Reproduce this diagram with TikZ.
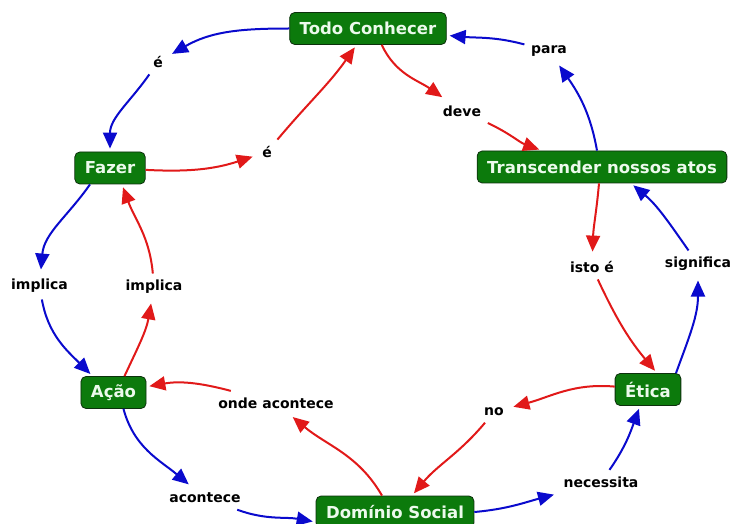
\documentclass[tikz,border=0pt]{standalone}
\usepackage{fontspec}
\setmainfont{DejaVu Sans}
\usetikzlibrary{arrows.meta}
\definecolor{boxgreen}{RGB}{12,122,12}
\definecolor{boxline}{RGB}{12,48,12}
\definecolor{boxtext}{RGB}{236,250,236}
\definecolor{linkblue}{RGB}{10,10,205}
\definecolor{linkred}{RGB}{225,25,25}
\begin{document}
\begin{tikzpicture}[x=1pt,y=1pt,
    concept/.style={draw=boxline,line width=0.8pt,fill=boxgreen,rounded corners=5pt,
      text=boxtext,font=\fontsize{16.5}{19}\selectfont\bfseries,inner xsep=10pt,minimum height=32pt},
    link/.style={font=\fontsize{14}{17}\selectfont\bfseries,inner sep=6.5pt},
    bl/.style={draw=linkblue,line width=2pt,-{Triangle[length=16pt,width=14pt]},shorten >=3pt},
    rd/.style={draw=linkred,line width=2pt,-{Triangle[length=16pt,width=14pt]},shorten >=3pt}]
    \useasboundingbox (0,0) rectangle (731,523);
    % concepts
    \node[concept] (todo) at (368,494.5) {Todo Conhecer};
    \node[concept] (trans) at (602,356) {Transcender nossos atos};
    \node[concept] (fazer) at (110,355) {Fazer};
    \node[concept] (acao) at (113.5,130.5) {Ação};
    \node[concept] (etica) at (648,133.5) {Ética};
    \node[concept] (dominio) at (395,11) {Domínio Social};
    % linking words
    \node[link] (e1) at (158,461) {é};
    \node[link] (e2) at (267,371) {é};
    \node[link] (deve) at (462,412) {deve};
    \node[link] (para) at (549,472) {para};
    \node[link] (impl1) at (39.5,237) {implica};
    \node[link] (impl2) at (154,236) {implica};
    \node[link] (isto) at (592,256) {isto é};
    \node[link] (signif) at (698,259) {significa};
    \node[link] (onde) at (276,120) {onde acontece};
    \node[link] (no) at (494,111) {no};
    \node[link] (acontece) at (205,25) {acontece};
    \node[link] (necessita) at (601,41) {necessita};
    % links
    \draw[bl] (todo) to[out=180,in=30] (e1);
    \draw[bl] (e1) to[out=235,in=90] (fazer);
    \draw[rd] (fazer) to[out=-3,in=198] (e2);
    \draw[rd] (e2) to[out=50,in=235] (todo);
    \draw[rd] (todo.-50) to[out=-65,in=145] (deve);
    \draw[rd] (deve) to[out=-25,in=160] ([xshift=-60pt]trans.north);
    \draw[bl] ([xshift=-5pt]trans.north) to[out=100,in=-55] (para);
    \draw[bl] (para) to[out=165,in=-5] (todo);
    \draw[rd] ([xshift=-3pt]trans.south) to[out=-95,in=88] (isto);
    \draw[rd] (isto) to[out=-65,in=130] ([xshift=9pt]etica.north);
    \draw[bl] ([xshift=28pt]etica.north) to[out=70,in=-90] (signif);
    \draw[bl] (signif) to[out=125,in=-40] ([xshift=29pt]trans.south);
    \draw[rd] (etica) to[out=175,in=15] (no);
    \draw[rd] (no) to[out=-130,in=50] ([xshift=17pt]dominio.north);
    \draw[rd] ([xshift=-13pt]dominio.north) to[out=120,in=-40] (onde);
    \draw[rd] (onde) to[out=165,in=10] (acao);
    \draw[bl] ([xshift=10pt]acao.south) to[out=-75,in=140] (acontece);
    \draw[bl] (acontece) to[out=-20,in=170] ([yshift=-10pt]dominio.west);
    \draw[bl] (dominio.east) to[out=5,in=195] (necessita);
    \draw[bl] (necessita) to[out=55,in=-110] ([xshift=-8pt]etica.south);
    \draw[bl] ([xshift=-20pt]fazer.south) to[out=235,in=85] (impl1);
    \draw[bl] (impl1) to[out=-80,in=135] ([xshift=-21pt]acao.north);
    \draw[rd] ([xshift=11pt]acao.north) to[out=65,in=-100] (impl2);
    \draw[rd] (impl2) to[out=95,in=-70] ([xshift=12pt]fazer.south);
\end{tikzpicture}
\end{document}
